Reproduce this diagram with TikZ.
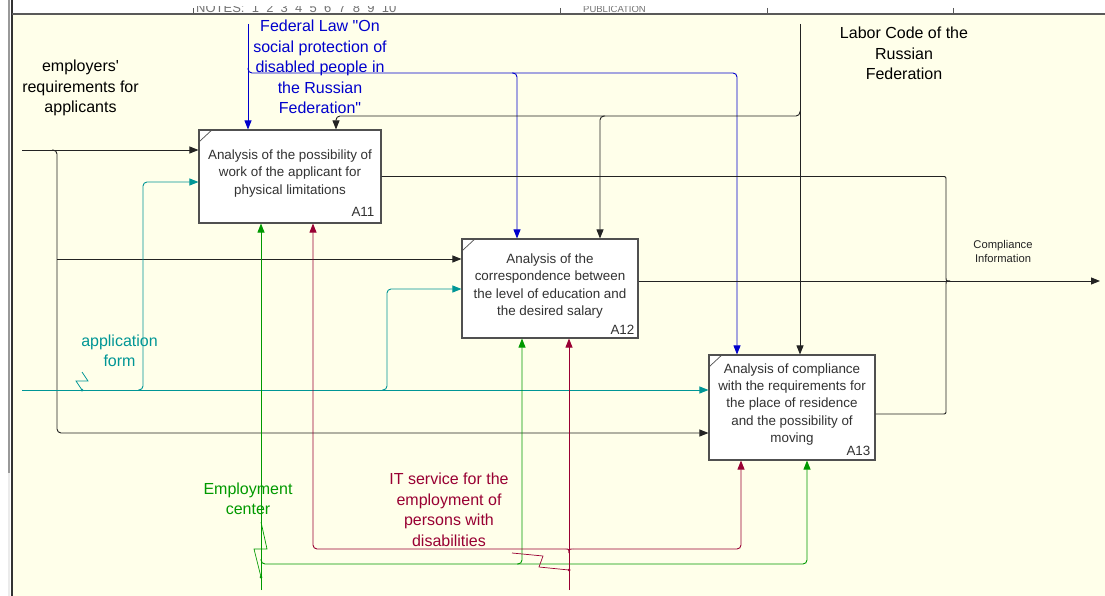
\documentclass[tikz,border=0pt]{standalone}
\usepackage{fontspec}
\setmainfont{Liberation Sans}
\usetikzlibrary{arrows.meta}

\definecolor{paper}{RGB}{255,255,234}
\definecolor{lineblack}{RGB}{35,35,35}
\definecolor{boxgray}{RGB}{80,80,80}
\definecolor{boxtextcol}{RGB}{50,50,50}
\definecolor{lawblue}{RGB}{0,0,204}
\definecolor{formteal}{RGB}{0,150,150}
\definecolor{ecgreen}{RGB}{0,153,0}
\definecolor{itred}{RGB}{153,0,51}

\tikzset{
  ln/.style={draw=lineblack, line width=0.9pt},
  lawln/.style={draw=lawblue, line width=0.9pt},
  formln/.style={draw=formteal, line width=0.9pt},
  ecln/.style={draw=ecgreen, line width=0.9pt},
  itln/.style={draw=itred, line width=0.9pt},
  arrowend/.style={-{Triangle[length=9pt,width=7pt]}},
  roundbend/.style={rounded corners=4pt},
  actbox/.style={draw=boxgray, fill=white, line width=1.1pt, inner sep=0pt},
  boxtext/.style={font=\fontsize{13.4}{17.3}\selectfont, text=boxtextcol, align=center, inner sep=0pt},
  boxnum/.style={font=\fontsize{13.4}{16}\selectfont, text=boxtextcol, inner sep=0pt, anchor=east},
  arrlabel/.style={font=\fontsize{16}{20.5}\selectfont, align=center, inner sep=0pt},
  smalllabel/.style={font=\fontsize{11.2}{14}\selectfont, align=center, inner sep=0pt, text=lineblack},
  hdr/.style={font=\fontsize{13}{14}\selectfont, text=black!55, inner sep=0pt, anchor=base west}
}

\begin{document}
\begin{tikzpicture}[x=1pt,y=-1pt]
\useasboundingbox (0,0) rectangle (1105,596);

% page, sheet and frame
\fill[white] (0,0) rectangle (1105,596);
\fill[paper] (12,14) rectangle (1105,596);
\fill[black!40] (8,0) rectangle (10,473);
\fill[black!8] (8,473) rectangle (10,596);
\draw[black!80, line width=1.2pt] (12,0) -- (12,596);
\draw[black!65, line width=1.2pt] (12,14) -- (1105,14);
\foreach \tx in {193,560,767,953} \draw[black!65, line width=0.8pt] (\tx,8) -- (\tx,14);
\begin{scope}
  \clip (150,6.5) rectangle (720,13.3);
  \node[hdr] (notes) at (196,12.6) {NOTES:\ \ 1\ \ 2\ \ 3\ \ 4\ \ 5\ \ 6\ \ 7\ \ 8\ \ 9\ \ 10};
  \node[hdr, font=\fontsize{9.5}{10}\selectfont] (publ) at (583,12.6) {PUBLICATION};
\end{scope}

% activity boxes
\node[actbox, minimum width=182pt, minimum height=93pt] (A11) at (290,176.5) {};
\node[actbox, minimum width=176pt, minimum height=99pt] (A12) at (550,288.5) {};
\node[actbox, minimum width=166pt, minimum height=105pt] (A13) at (792,407.5) {};
\foreach \b in {A11,A12,A13}
  \draw[boxgray, line width=0.7pt] (\b.north west) ++(0,13) -- ++(14,-13);

\node[boxtext] (A11t) at (290,173.5) {Analysis of the possibility of\\work of the applicant for\\physical limitations};
\node[boxtext] (A12t) at (550,286) {Analysis of the\\correspondence between\\the level of education and\\the desired salary};
\node[boxtext] (A13t) at (792,404.5) {Analysis of compliance\\with the requirements for\\the place of residence\\and the possibility of\\moving};
\node[boxnum] (A11n) at ([xshift=-7pt,yshift=12pt]A11.south east) {A11};
\node[boxnum] (A12n) at ([xshift=-4pt,yshift=9pt]A12.south east) {A12};
\node[boxnum] (A13n) at ([xshift=-5pt,yshift=10pt]A13.south east) {A13};

% arrow labels
\node[arrlabel, text=black] (empL) at (80.5,88) {employers\textquotesingle\\requirements for\\applicants};
\node[arrlabel, text=lawblue] (lawL) at (320,67) {Federal Law \textquotedbl On\\social protection of\\disabled people in\\the Russian\\Federation\textquotedbl};
\node[arrlabel, text=black] (codeL) at (904,53.5) {Labor Code of the\\Russian\\Federation};
\node[arrlabel, text=formteal] (formL) at (119.5,351) {application\\form};
\node[arrlabel, text=ecgreen] (ecL) at (248,499) {Employment\\center};
\node[arrlabel, text=itred] (itL) at (449,510) {IT service for the\\employment of\\persons with\\disabilities};
\node[smalllabel] (infoL) at (1003,251) {Compliance\\Information};

% input: employers' requirements
\coordinate (empIn) at (22,150);
\coordinate (empA12) at (57,259);
\coordinate (empA13) at (57,433);
\draw[ln,arrowend] (empIn) -- (empIn -| A11.west);
\draw[ln,roundbend,arrowend] (52,150) -- (57,150) -- (empA13) -- (empA13 -| A13.west);
\draw[ln,arrowend] (empA12) -- (empA12 -| A12.west);

% input: application form
\coordinate (formIn) at (22,390);
\coordinate (formA11) at (143,182);
\coordinate (formA12) at (387,289);
\draw[formln,arrowend] (formIn) -- (formIn -| A13.west);
\draw[formln,roundbend,arrowend] (138,390) -- (143,390) -- (formA11) -- (formA11 -| A11.west);
\draw[formln,roundbend,arrowend] (382,390) -- (387,390) -- (formA12) -- (formA12 -| A12.west);
\draw[formln, line width=0.7pt] (82,372) -- (88,381) -- (76,381) -- (82,390);
\fill[formteal] (82,390) circle (1.5);

% control: federal law
\coordinate (lawTop) at (248,24);
\coordinate (lawA12) at (517,73);
\coordinate (lawA13) at (737,73);
\draw[lawln,arrowend] (lawTop) -- (lawTop |- A11.north);
\draw[lawln,roundbend,arrowend] (248,68) -- (248,73) -- (lawA13) -- (lawA13 |- A13.north);
\draw[lawln,roundbend,arrowend] (512,73) -- (lawA12) -- (lawA12 |- A12.north);

% control: labor code
\coordinate (codeTop) at (800,24);
\coordinate (codeA11) at (336,116);
\coordinate (codeA12) at (600,116);
\draw[ln,arrowend] (codeTop) -- (codeTop |- A13.north);
\draw[ln,roundbend,arrowend] (800,111) -- (800,116) -- (codeA11) -- (codeA11 |- A11.north);
\draw[ln,roundbend,arrowend] (605,116) -- (codeA12) -- (codeA12 |- A12.north);

% output: compliance information
\coordinate (infoOut) at (1100,281);
\coordinate (merge) at (950,281);
\coordinate (out13) at (946,414);
\draw[ln,arrowend] (infoOut -| A12.east) -- (infoOut);
\draw[ln] (A11.east) -- (942,176.5) .. controls (946,176.5) .. (946,180.5)
  -- (946,277) .. controls (946,281) .. (merge);
\draw[ln] (out13 -| A13.east) -- (942,414) .. controls (946,414) .. (946,410)
  -- (946,285) .. controls (946,281) .. (merge);

% mechanism: employment center
\coordinate (ecBot) at (261,590);
\coordinate (ecA12) at (522,564);
\coordinate (ecA13) at (807,564);
\draw[ecln,arrowend] (ecBot) -- (ecBot |- A11.south);
\draw[ecln,roundbend,arrowend] (261,559) -- (261,564) -- (ecA13) -- (ecA13 |- A13.south);
\draw[ecln,roundbend,arrowend] (517,564) -- (ecA12) -- (ecA12 |- A12.south);
\draw[ecln, line width=0.7pt] (261,522) -- (267,549) -- (254,549) -- (261,577);
\fill[ecgreen] (261,577) circle (1.5);

% mechanism: IT service
\coordinate (itBot) at (569,590);
\coordinate (itA11) at (313,549);
\coordinate (itA13) at (741,549);
\draw[itln,arrowend] (itBot) -- (itBot |- A12.south);
\draw[itln] (569,553) .. controls (569,549) .. (565,549);
\draw[itln] (569,553) .. controls (569,549) .. (573,549);
\draw[itln,roundbend,arrowend] (565,549) -- (itA11) -- (itA11 |- A11.south);
\draw[itln,roundbend,arrowend] (573,549) -- (itA13) -- (itA13 |- A13.south);
\draw[itln, line width=0.7pt] (512,553) -- (543,556) -- (539,567) -- (569,570);
\fill[itred] (569,570) circle (1.5);
\end{tikzpicture}
\end{document}
